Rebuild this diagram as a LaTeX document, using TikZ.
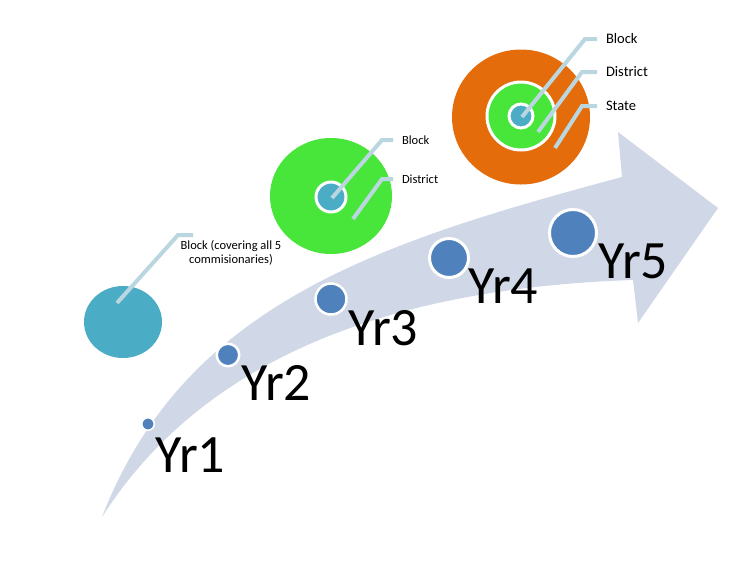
\documentclass[tikz,border=0pt]{standalone}
\usepackage{fontspec}
\setmainfont{Carlito}
\usepackage{tikz}
\usetikzlibrary{shapes.geometric, positioning}
\definecolor{flowgray}{RGB}{208,216,232}
\definecolor{dotblue}{RGB}{79,129,189}
\definecolor{tealc}{RGB}{75,172,198}
\definecolor{greenc}{RGB}{72,229,58}
\definecolor{orangec}{RGB}{228,108,10}
\definecolor{leadc}{RGB}{186,214,224}

\begin{document}
\begin{tikzpicture}[x=1pt, y=-1pt,
  yrdot/.style={circle, fill=dotblue, draw=white, inner sep=0pt},
  yrlbl/.style={anchor=base west, inner sep=0pt, font=\fontsize{54}{54}\selectfont},
  disc/.style={ellipse, inner sep=0pt},
  leader/.style={draw=leadc, line width=4pt},
  tag/.style={anchor=west, inner sep=0pt, outer sep=9pt, align=left}
]
  \useasboundingbox (0,0) rectangle (736,566);
  % growth arrow
  \fill[flowgray] (102,517) .. controls (185,303) and (380,242) .. (622,177)
    -- (618,132) -- (718,208) -- (638,323) -- (633,280)
    .. controls (330,290) and (180,395) .. cycle;

  % years
  \node[yrdot, line width=1.5pt, minimum size=12.5pt] (y1) at (148,424) {};
  \node[yrdot, line width=2.5pt, minimum size=22.5pt] (y2) at (228,355) {};
  \node[yrdot, line width=2.5pt, minimum size=31pt] (y3) at (331,299) {};
  \node[yrdot, line width=3pt, minimum size=39pt] (y4) at (449,258) {};
  \node[yrdot, line width=3pt, minimum size=47pt] (y5) at (573,233) {};
  \node[yrlbl] (t1) at (155,472) {Yr1};
  \node[yrlbl] (t2) at (241,400) {Yr2};
  \node[yrlbl] (t3) at (348,345) {Yr3};
  \node[yrlbl] (t4) at (468,303) {Yr4};
  \node[yrlbl] (t5) at (598,278) {Yr5};

  % year 1: block only
  \node[disc, fill=tealc, minimum width=78pt, minimum height=72pt] (lblock) at (123,322) {};
  % year 3: block + district
  \node[disc, fill=greenc, minimum width=122pt, minimum height=116pt] (mdist) at (331,196) {};
  \node[disc, fill=tealc, draw=white, line width=3pt, minimum size=30pt] (mblock) at (331,197) {};
  % year 5: block + district + state
  \node[disc, fill=orangec, minimum width=138pt, minimum height=135pt] (rstate) at (521,117) {};
  \node[disc, fill=greenc, draw=white, line width=3pt, minimum size=68pt] (rdist) at (521,116) {};
  \node[disc, fill=tealc, draw=white, line width=3pt, minimum size=24pt] (rblock) at (521,116) {};

  % callouts
  \coordinate (la) at (117,303);
  \coordinate (lb) at (178,235);
  \coordinate (lc) at (193,235);
  \draw[leader] (la) -- (lb) -- (lc);
  \node[align=center, inner sep=0pt, font=\fontsize{12.5}{13.5}\selectfont] (ltag) at (231,253)
    {Block (covering all 5\\commisionaries)};

  \coordinate (ma) at (332,198);
  \coordinate (mb) at (353,219);
  \node[tag, font=\fontsize{12.5}{14}\selectfont] (mtag1) at (393,140) {Block};
  \node[tag, font=\fontsize{12.5}{14}\selectfont] (mtag2) at (393,179) {District};
  \draw[leader] (ma) -- (382,140) -- (mtag1.west);
  \draw[leader] (mb) -- (382,179) -- (mtag2.west);

  \coordinate (ra) at (522,117);
  \coordinate (rb) at (538,132);
  \coordinate (rc) at (555,148);
  \node[tag, font=\fontsize{14.5}{16}\selectfont] (rtag1) at (597,39) {Block};
  \node[tag, font=\fontsize{14.5}{16}\selectfont] (rtag2) at (597,72) {District};
  \node[tag, font=\fontsize{14.5}{16}\selectfont] (rtag3) at (597,106) {State};
  \draw[leader] (ra) -- (585,39) -- (rtag1.west);
  \draw[leader] (rb) -- (582,72) -- (rtag2.west);
  \draw[leader] (rc) -- (582,106) -- (rtag3.west);
\end{tikzpicture}
\end{document}
